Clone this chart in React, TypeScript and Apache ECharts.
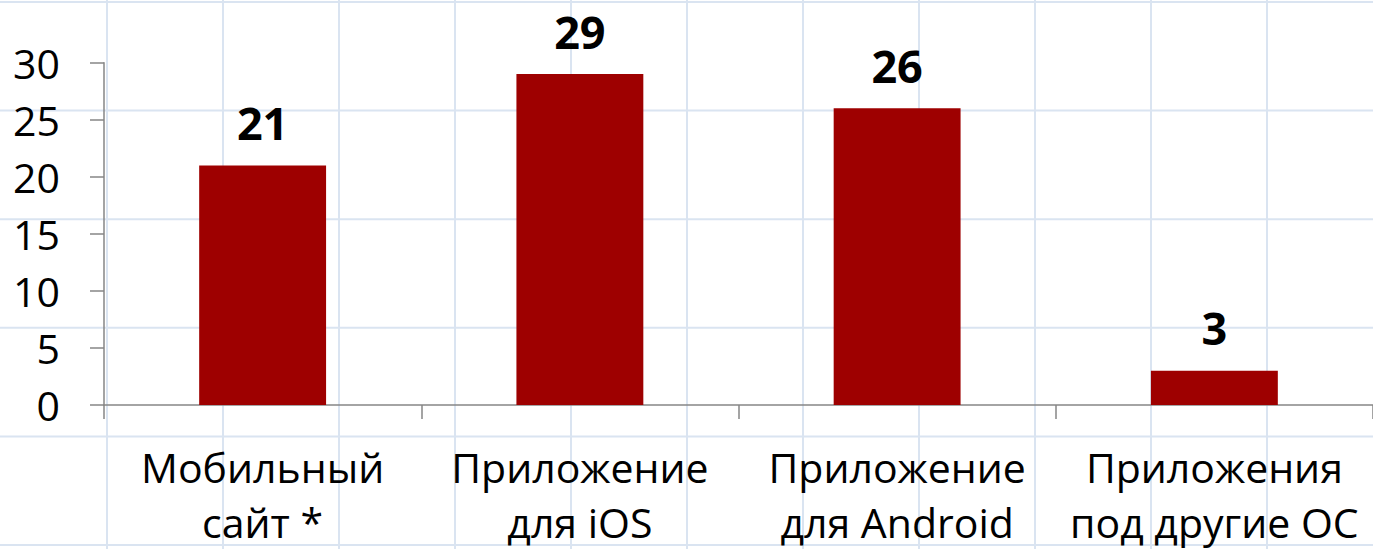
import React, { useEffect, useRef } from "react";
import * as echarts from "echarts";

const categories = ["Мобильный\nсайт *", "Приложение\nдля iOS", "Приложение\nдля Android", "Приложения\nпод другие ОС"];
const values = [21, 29, 26, 3];
const yTicks = { min: 0, max: 30, interval: 5 };

const W = 1373;
const H = 549;
const FONT = "'Open Sans', 'Noto Sans', sans-serif";

export default function App() {
  const ref = useRef<HTMLDivElement>(null);
  useEffect(() => {
    if (!ref.current) return;
    const chart = echarts.init(ref.current, undefined, { renderer: "svg" });
    const bg: any[] = [];
    const gridColor = "#dae4f1";
    for (let k = 0; k < 11; k++) {
      const x = 107 + 116 * k;
      bg.push({ type: "line", z: -10, silent: true, shape: { x1: x, y1: 0, x2: x, y2: H }, style: { stroke: gridColor, lineWidth: 2 } });
    }
    for (let k = 0; k < 6; k++) {
      const y = 2 + 108.6 * k;
      bg.push({ type: "line", z: -10, silent: true, shape: { x1: 0, y1: y, x2: W, y2: y }, style: { stroke: gridColor, lineWidth: 2 } });
    }
    chart.setOption({
      animation: false,
      backgroundColor: "#ffffff",
      graphic: bg,
      grid: { left: 104, right: -5, top: 62.7, bottom: 143, containLabel: false },
      xAxis: {
        type: "category",
        data: categories,
        axisLine: { lineStyle: { color: "#868686", width: 1.5 } },
        axisTick: { show: true, length: 14, lineStyle: { color: "#868686", width: 1.5 } },
        axisLabel: { color: "#000", fontFamily: FONT, fontSize: 41, lineHeight: 55, margin: 34, interval: 0 },
        splitLine: { show: false },
      },
      yAxis: {
        type: "value",
        min: yTicks.min,
        max: yTicks.max,
        interval: yTicks.interval,
        axisLine: { show: true, lineStyle: { color: "#868686", width: 1.5 } },
        axisTick: { show: true, length: 14, lineStyle: { color: "#868686", width: 1.5 } },
        axisLabel: { color: "#000", fontFamily: FONT, fontSize: 41, margin: 44 },
        splitLine: { show: false },
      },
      series: [
        {
          type: "bar",
          data: values,
          barWidth: "40%",
          itemStyle: { color: "#9e0000" },
          label: { show: true, position: "top", distance: 26, color: "#000", fontFamily: FONT, fontSize: 45, lineHeight: 34, fontWeight: "bold" },
        },
      ],
    });
    return () => chart.dispose();
  }, []);
  return <div ref={ref} style={{ position: "fixed", left: 0, top: 0, width: W, height: H }} />;
}
